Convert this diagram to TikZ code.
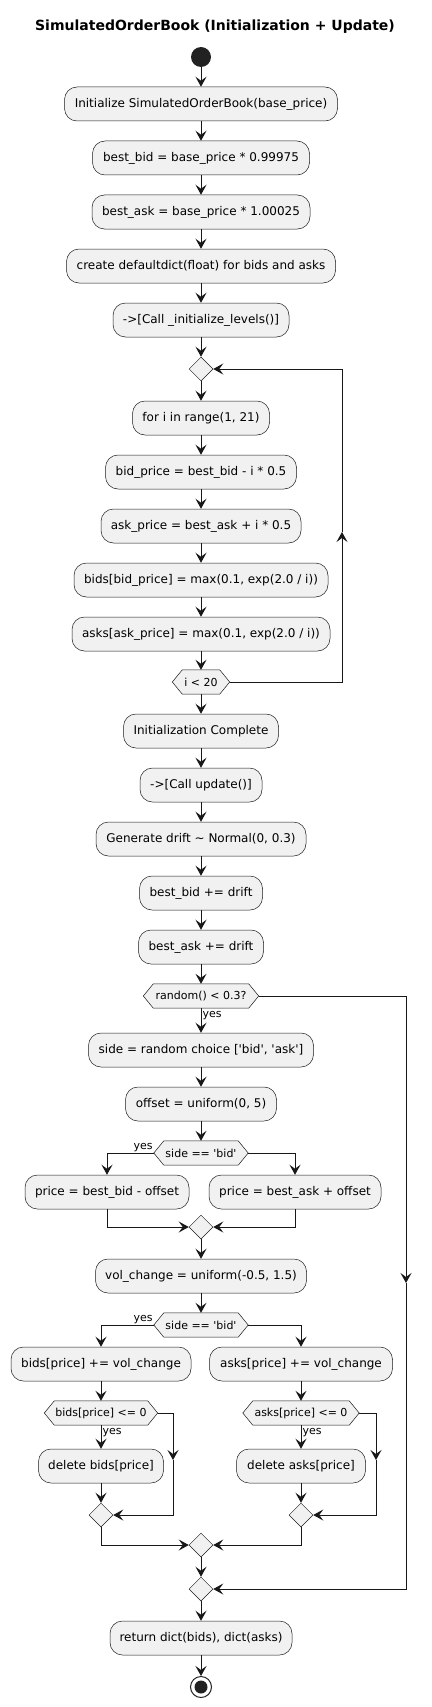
\documentclass[tikz,border=0pt]{standalone}
\usepackage{fontspec}
\setmainfont{DejaVu Sans}
\usetikzlibrary{arrows.meta,shapes.geometric}
\pgfdeclarelayer{background}
\pgfsetlayers{background,main}
\definecolor{cline}{HTML}{181818}
\definecolor{cfill}{HTML}{F1F1F1}
\definecolor{cdot}{HTML}{222222}
\newcommand\hexout[1]{\filldraw[hexline] (#1.west) -- ([xshift=10pt]#1.north west) -- ([xshift=-10pt]#1.north east) -- (#1.east) -- ([xshift=-10pt]#1.south east) -- ([xshift=10pt]#1.south west) -- cycle;}
\newcommand\sq{\textquotesingle}
\tikzset{
  box/.style={draw=cline, line width=0.5pt, fill=cfill, rounded corners=12.5pt, minimum height=34pt, inner sep=0pt, font=\fontsize{12}{14}\selectfont},
  hexnode/.style={minimum height=24pt, inner sep=0pt, font=\fontsize{11}{13}\selectfont},
  hexline/.style={draw=cline, line width=0.5pt, fill=cfill},
  dia/.style={diamond, draw=cline, line width=0.5pt, fill=cfill, minimum width=24pt, minimum height=24pt, inner sep=0pt},
  arr/.style={draw=cline, line width=1pt, -{Stealth[length=10pt,width=11pt,inset=4pt]}},
  ln/.style={draw=cline, line width=1pt},
  lbl/.style={font=\fontsize{11}{13}\selectfont, inner sep=1pt}
}
\begin{document}
\begin{tikzpicture}[x=1pt,y=-1pt]
\useasboundingbox (0,0) rectangle (431,1707);
\node[font=\bfseries\fontsize{14}{16}\selectfont] (title) at (215,27) {SimulatedOrderBook (Initialization + Update)};
\node[circle, fill=cdot, minimum size=20pt, inner sep=0pt] (start) at (201,57) {};
\node[box, minimum width=273pt] (init) at (201,104) {Initialize SimulatedOrderBook(base\_price)};
\node[box, minimum width=217pt] (bb) at (201,158) {best\_bid = base\_price * 0.99975};
\node[box, minimum width=218pt] (ba) at (201,212) {best\_ask = base\_price * 1.00025};
\node[box, minimum width=269pt] (dd) at (201,266) {create defaultdict(float) for bids and asks};
\node[box, minimum width=176pt] (cil) at (201,320) {->[Call \_initialize\_levels()]};
\node[dia] (d1) at (201,369) {};
\node[box, minimum width=137pt] (for) at (201,418) {for i in range(1, 21)};
\node[box, minimum width=191pt] (bidp) at (201,472) {bid\_price = best\_bid - i * 0.5};
\node[box, minimum width=200pt] (askp) at (201,526) {ask\_price = best\_ask + i * 0.5};
\node[box, minimum width=254pt] (bidsp) at (201,580) {bids[bid\_price] = max(0.1, exp(2.0 / i))};
\node[box, minimum width=258pt] (asksp) at (201,634) {asks[ask\_price] = max(0.1, exp(2.0 / i))};
\node[hexnode, minimum width=57pt] (hexI) at (201,682) {i < 20};
\node[box, minimum width=155pt] (initc) at (201,731) {Initialization Complete};
\node[box, minimum width=122pt] (callu) at (201,785) {->[Call update()]};
\node[box, minimum width=210pt] (gen) at (201,839) {Generate drift \textasciitilde{} Normal(0, 0.3)};
\node[box, minimum width=123pt] (bbd) at (201,893) {best\_bid += drift};
\node[box, minimum width=125pt] (bad) at (201,947) {best\_ask += drift};
\node[hexnode, minimum width=115pt] (hexR) at (201,996) {random() < 0.3?};
\node[box, minimum width=225pt] (side) at (201,1050) {side = random choice [\sq bid\sq, \sq ask\sq]};
\node[box, minimum width=151pt] (offset) at (201,1104) {offset = uniform(0, 5)};
\node[hexnode, minimum width=94pt] (hexS1) at (201,1153) {side == \sq bid\sq};
\node[box, minimum width=164pt] (pbid) at (107,1192) {price = best\_bid - offset};
\node[box, minimum width=172pt] (pask) at (295,1192) {price = best\_ask + offset};
\node[dia] (d2) at (201,1227) {};
\node[box, minimum width=211pt] (vol) at (201,1276) {vol\_change = uniform(-0.5, 1.5)};
\node[hexnode, minimum width=94pt] (hexS2) at (201,1325) {side == \sq bid\sq};
\node[box, minimum width=180pt] (bidsv) at (101,1364) {bids[price] += vol\_change};
\node[box, minimum width=183pt] (asksv) at (301,1364) {asks[price] += vol\_change};
\node[hexnode, minimum width=113pt] (hexBL) at (101,1413) {bids[price] <= 0};
\node[hexnode, minimum width=116pt] (hexAL) at (301,1413) {asks[price] <= 0};
\node[box, minimum width=125pt] (delb) at (101,1466) {delete bids[price]};
\node[box, minimum width=129pt] (dela) at (301,1466) {delete asks[price]};
\node[dia] (dl) at (101,1515) {};
\node[dia] (dr) at (301,1515) {};
\node[dia] (d4) at (201,1545) {};
\node[dia] (d5) at (201,1589) {};
\node[box, minimum width=182pt] (ret) at (201,1638) {return dict(bids), dict(asks)};
\node[circle, draw=cdot, line width=1pt, fill=white, minimum size=21pt, inner sep=0pt] (end) at (201,1687) {};
\fill[cdot] (end.center) circle (6.5pt);
\begin{pgfonlayer}{background}
\hexout{hexI}
\hexout{hexR}
\hexout{hexS1}
\hexout{hexS2}
\hexout{hexBL}
\hexout{hexAL}
\end{pgfonlayer}
% main flow
\draw[arr] (start) -- (init);
\draw[arr] (init) -- (bb);
\draw[arr] (bb) -- (ba);
\draw[arr] (ba) -- (dd);
\draw[arr] (dd) -- (cil);
\draw[arr] (cil) -- (d1);
\draw[arr] (d1) -- (for);
\draw[arr] (for) -- (bidp);
\draw[arr] (bidp) -- (askp);
\draw[arr] (askp) -- (bidsp);
\draw[arr] (bidsp) -- (asksp);
\draw[arr] (asksp) -- (hexI);
\draw[arr] (hexI) -- (initc);
% loop back
\coordinate (lpA) at (342,532);
\draw[arr] (hexI.east) -| (lpA);
\draw[arr] (lpA) |- (d1.east);
\draw[arr] (initc) -- (callu);
\draw[arr] (callu) -- (gen);
\draw[arr] (gen) -- (bbd);
\draw[arr] (bbd) -- (bad);
\draw[arr] (bad) -- (hexR);
\draw[arr] (hexR) -- node[lbl, anchor=west, pos=0.3] {yes} (side);
\coordinate (rbA) at (406,1283);
\draw[arr] (hexR.east) -| (rbA);
\draw[arr] (rbA) |- (d5.east);
\draw[arr] (side) -- (offset);
\draw[arr] (offset) -- (hexS1);
\draw[arr] (hexS1.west) -| (pbid.north);
\node[lbl, anchor=south east] at (hexS1.west) {yes};
\draw[arr] (hexS1.east) -| (pask.north);
\draw[arr] (pbid.south) |- (d2.west);
\draw[arr] (pask.south) |- (d2.east);
\draw[arr] (d2) -- (vol);
\draw[arr] (vol) -- (hexS2);
\draw[arr] (hexS2.west) -| (bidsv.north);
\node[lbl, anchor=south east] at (hexS2.west) {yes};
\draw[arr] (hexS2.east) -| (asksv.north);
\draw[arr] (bidsv) -- (hexBL);
\draw[arr] (asksv) -- (hexAL);
\draw[arr] (hexBL) -- node[lbl, anchor=west, pos=0.3] {yes} (delb);
\draw[arr] (hexAL) -- node[lbl, anchor=west, pos=0.3] {yes} (dela);
\coordinate (blA) at (173,1460);
\coordinate (brA) at (376,1460);
\draw[arr] (hexBL.east) -| (blA);
\draw[arr] (blA) |- (dl.east);
\draw[arr] (hexAL.east) -| (brA);
\draw[arr] (brA) |- (dr.east);
\draw[arr] (delb) -- (dl);
\draw[arr] (dela) -- (dr);
\draw[arr] (dl.south) |- (d4.west);
\draw[arr] (dr.south) |- (d4.east);
\draw[arr] (d4) -- (d5);
\draw[arr] (d5) -- (ret);
\draw[arr] (ret) -- (end);
\end{tikzpicture}
\end{document}
